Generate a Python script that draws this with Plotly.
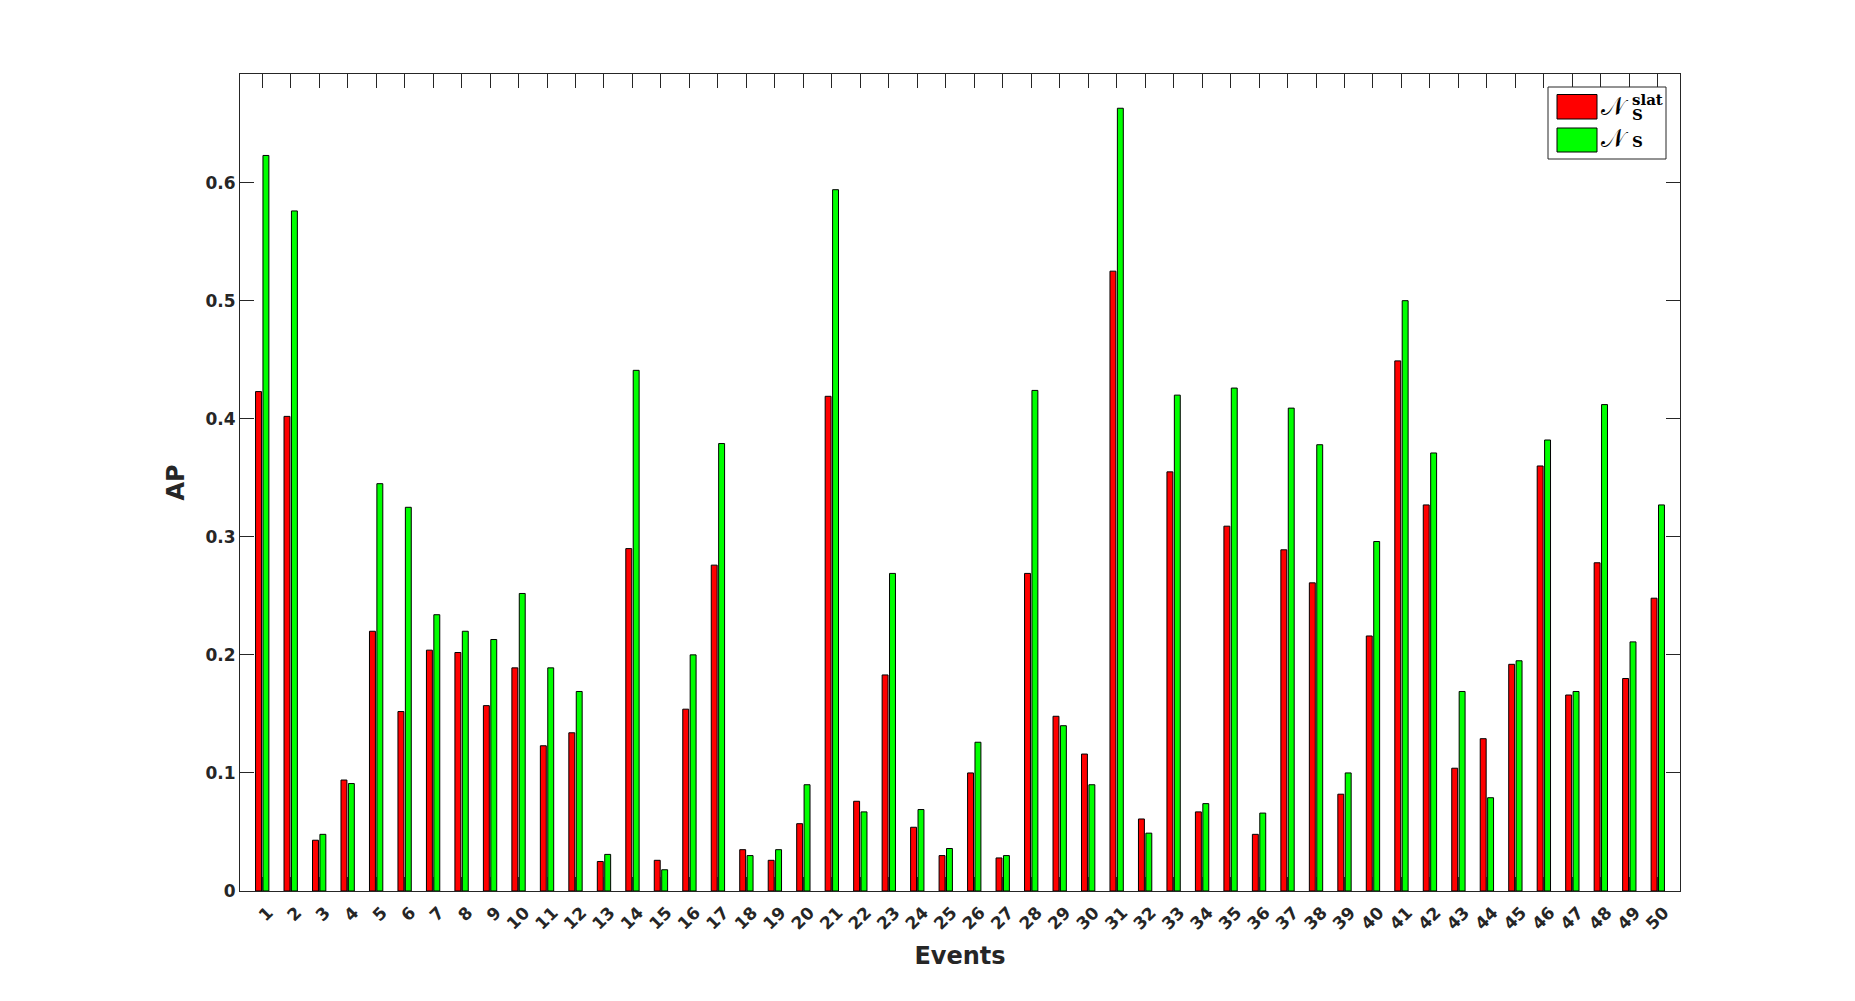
import plotly.graph_objects as go

events = list(range(1, 51))
tick_labels = [str(e) for e in events]

ap_slat = [0.423, 0.402, 0.043, 0.094, 0.220, 0.152, 0.204, 0.202, 0.157, 0.189,
           0.123, 0.134, 0.025, 0.290, 0.026, 0.154, 0.276, 0.035, 0.026, 0.057,
           0.419, 0.076, 0.183, 0.054, 0.030, 0.100, 0.028, 0.269, 0.148, 0.116,
           0.525, 0.061, 0.355, 0.067, 0.309, 0.048, 0.289, 0.261, 0.082, 0.216,
           0.449, 0.327, 0.104, 0.129, 0.192, 0.360, 0.166, 0.278, 0.180, 0.248]

ap_s = [0.623, 0.576, 0.048, 0.091, 0.345, 0.325, 0.234, 0.220, 0.213, 0.252,
        0.189, 0.169, 0.031, 0.441, 0.018, 0.200, 0.379, 0.030, 0.035, 0.090,
        0.594, 0.067, 0.269, 0.069, 0.036, 0.126, 0.030, 0.424, 0.140, 0.090,
        0.663, 0.049, 0.420, 0.074, 0.426, 0.066, 0.409, 0.378, 0.100, 0.296,
        0.500, 0.371, 0.169, 0.079, 0.195, 0.382, 0.169, 0.412, 0.211, 0.327]

y_ticks = [0, 0.1, 0.2, 0.3, 0.4, 0.5, 0.6]
y_tick_text = ["0", "0.1", "0.2", "0.3", "0.4", "0.5", "0.6"]

RED = "#ff0000"
GREEN = "#00ff00"
INK = "#262626"

fig = go.Figure()
fig.add_trace(go.Bar(x=events, y=ap_slat, name="N_S^slat", marker=dict(color=RED, line=dict(color="black", width=1)),
                     showlegend=False))
fig.add_trace(go.Bar(x=events, y=ap_s, name="N_S", marker=dict(color=GREEN, line=dict(color="black", width=1)),
                     showlegend=False))

# plot area geometry (pixels)
L, R, T, B = 240, 1680, 74, 891
W, H = 1855, 1001


def px(xp):
    return (xp - L) / (R - L)


def py(yp):
    return (B - yp) / (B - T)


# manual legend (box + large swatches)
shapes = [
    dict(type="rect", xref="paper", yref="paper", x0=px(1548), x1=px(1666), y0=py(159), y1=py(87),
         line=dict(color=INK, width=1), fillcolor="white", layer="above"),
    dict(type="rect", xref="paper", yref="paper", x0=px(1557), x1=px(1597), y0=py(119), y1=py(94.5),
         line=dict(color="black", width=1), fillcolor=RED, layer="above"),
    dict(type="rect", xref="paper", yref="paper", x0=px(1557), x1=px(1597), y0=py(152), y1=py(128),
         line=dict(color="black", width=1), fillcolor=GREEN, layer="above"),
]

math_font = dict(family="DejaVu Serif", size=25, color="black")
bold_font = dict(family="DejaVu Serif", size=15, color="black", weight="bold")
annotations = [
    dict(x=px(1599), y=py(106), xref="paper", yref="paper", text="𝒩", showarrow=False,
         xanchor="left", yanchor="middle", font=math_font),
    dict(x=px(1630), y=py(100), xref="paper", yref="paper", text="<b>slat</b>", showarrow=False,
         xanchor="left", yanchor="middle", font=bold_font),
    dict(x=px(1630), y=py(115), xref="paper", yref="paper", text="<b>S</b>", showarrow=False,
         xanchor="left", yanchor="middle", font=bold_font),
    dict(x=px(1599), y=py(138), xref="paper", yref="paper", text="𝒩", showarrow=False,
         xanchor="left", yanchor="middle", font=math_font),
    dict(x=px(1630), y=py(142), xref="paper", yref="paper", text="<b>S</b>", showarrow=False,
         xanchor="left", yanchor="middle", font=bold_font),
]

fig.update_layout(
    width=W, height=H,
    margin=dict(l=L, r=W - R, t=T, b=H - B, pad=0),
    paper_bgcolor="white", plot_bgcolor="white",
    barmode="group", bargap=0.48, bargroupgap=0.2,
    font=dict(family="DejaVu Sans", color=INK),
    shapes=shapes, annotations=annotations,
    showlegend=False,
)

fig.update_xaxes(
    range=[0.22, 50.78], tickmode="array", tickvals=events, ticktext=tick_labels,
    tickangle=-45, ticks="inside", ticklen=14, tickcolor=INK, tickwidth=1,
    ticklabelshift=6, ticklabelstandoff=4,
    showline=True, linecolor=INK, linewidth=1, mirror="ticks", showgrid=False, zeroline=False,
    tickfont=dict(size=17, color=INK, weight="bold"),
    title=dict(text="<b>Events</b>", font=dict(size=24, color=INK), standoff=14),
)
fig.update_yaxes(
    range=[0, 0.692], tickmode="array", tickvals=y_ticks, ticktext=y_tick_text,
    ticks="inside", ticklen=14, tickcolor=INK, tickwidth=1,
    showline=True, linecolor=INK, linewidth=1, mirror="ticks", showgrid=False, zeroline=False,
    tickfont=dict(size=17, color=INK, weight="bold"),
    title=dict(text="<b>AP</b>", font=dict(size=24, color=INK), standoff=14),
)

fig.write_html("out.html")
